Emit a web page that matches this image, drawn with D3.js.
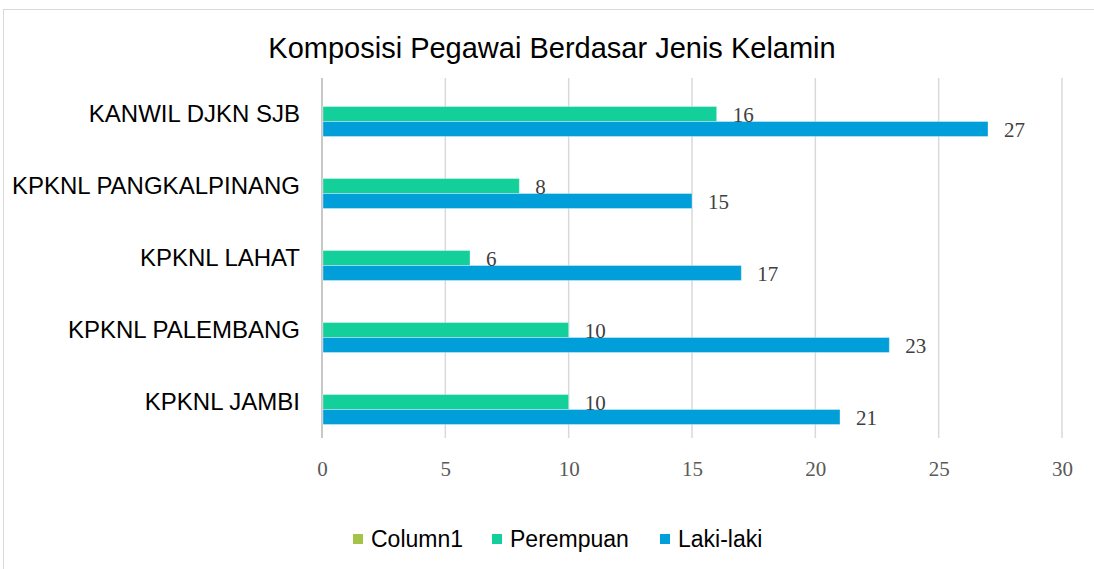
<!DOCTYPE html>
<html>
<head>
<meta charset="utf-8">
<script src="https://cdn.jsdelivr.net/npm/d3@7"></script>
<style>
  body { margin: 0; background: #fff; }
  svg { display: block; }
</style>
</head>
<body>
<div id="chart"></div>
<script>
// data
const categories = ["KANWIL DJKN SJB", "KPKNL PANGKALPINANG", "KPKNL LAHAT", "KPKNL PALEMBANG", "KPKNL JAMBI"];
const seriesNames = ["Column1", "Perempuan", "Laki-laki"];
const column1 = [null, null, null, null, null];
const perempuan = [16, 8, 6, 10, 10];
const lakiLaki = [27, 15, 17, 23, 21];
const xTicks = [0, 5, 10, 15, 20, 25, 30];
const colors = ["#a5c249", "#13cf9a", "#009fd9"];

const width = 1094, height = 569;
const plot = { left: 322, right: 1062, top: 78, bottom: 438 };

const svg = d3.select("#chart").append("svg")
  .attr("width", width)
  .attr("height", height);

// chart frame
svg.append("rect")
  .attr("x", 3.5).attr("y", 9.5)
  .attr("width", 1200).attr("height", 700)
  .attr("fill", "none")
  .attr("stroke", "#d9d9d9")
  .attr("stroke-width", 1);

svg.append("text")
  .attr("x", 552).attr("y", 58)
  .attr("text-anchor", "middle")
  .style("font-family", "Liberation Sans, Arial, sans-serif")
  .style("font-size", "29px")
  .attr("fill", "#000")
  .text("Komposisi Pegawai Berdasar Jenis Kelamin");

const x = d3.scaleLinear().domain([0, 30]).range([plot.left, plot.right]);
const y = d3.scaleBand().domain(categories).range([plot.top, plot.bottom]).paddingInner(0).paddingOuter(0);
const inner = d3.scaleBand().domain(seriesNames).range([0, 45]);

// gridlines
svg.append("g")
  .selectAll("line")
  .data(xTicks)
  .join("line")
  .attr("x1", d => x(d)).attr("x2", d => x(d))
  .attr("y1", plot.top).attr("y2", plot.bottom)
  .attr("stroke", d => d === 0 ? "#c8c8c8" : "#d9d9d9")
  .attr("stroke-width", d => d === 0 ? 2 : 1.5);

// x axis labels
const xAxis = svg.append("g")
  .attr("transform", `translate(0,${plot.bottom})`)
  .call(d3.axisBottom(x).tickValues(xTicks).tickSize(0).tickPadding(23));
xAxis.select(".domain").remove();
xAxis.selectAll("text")
  .style("font-family", "Liberation Serif, 'Times New Roman', serif")
  .style("font-size", "21px")
  .attr("fill", "#595959");

// y axis labels
const yAxis = svg.append("g")
  .attr("transform", `translate(${plot.left},0)`)
  .call(d3.axisLeft(y).tickSize(0).tickPadding(22));
yAxis.select(".domain").remove();
yAxis.selectAll("text")
  .style("font-family", "Liberation Sans, Arial, sans-serif")
  .style("font-size", "24px")
  .attr("fill", "#000");

const rows = categories.map((c, i) => ({
  cat: c,
  vals: [column1[i], perempuan[i], lakiLaki[i]]
}));

const groups = svg.append("g")
  .selectAll("g")
  .data(rows)
  .join("g")
  .attr("transform", d => `translate(0,${y(d.cat) + (y.bandwidth() - 45) / 2})`);

groups.selectAll("rect")
  .data(d => d.vals.map((v, j) => ({ v, s: seriesNames[j], j })).filter(d => d.v != null))
  .join("rect")
  .attr("x", x(0) + 1)
  .attr("y", d => inner(d.s))
  .attr("width", d => x(d.v) - x(0) - 1)
  .attr("height", inner.bandwidth())
  .attr("fill", d => colors[d.j])
  .attr("stroke", "#ffffff")
  .attr("stroke-opacity", 0.35)
  .attr("stroke-width", 1);

groups.selectAll("text")
  .data(d => d.vals.map((v, j) => ({ v, s: seriesNames[j], j })).filter(d => d.v != null))
  .join("text")
  .attr("x", d => x(d.v) + 16)
  .attr("y", d => inner(d.s) + inner.bandwidth() / 2 + 8)
  .style("font-family", "Liberation Serif, 'Times New Roman', serif")
  .style("font-size", "21px")
  .attr("fill", "#404040")
  .text(d => d.v);

// legend
const legendX = [353, 492, 660];
const legend = svg.append("g")
  .selectAll("g")
  .data(seriesNames)
  .join("g")
  .attr("transform", (d, i) => `translate(${legendX[i]},539)`);
legend.append("rect")
  .attr("x", 0).attr("y", -5)
  .attr("width", 10).attr("height", 10)
  .attr("fill", (d, i) => colors[i]);
legend.append("text")
  .attr("x", 18).attr("y", 8)
  .style("font-family", "Liberation Sans, Arial, sans-serif")
  .style("font-size", "23px")
  .attr("fill", "#000")
  .text(d => d);
</script>
</body>
</html>
